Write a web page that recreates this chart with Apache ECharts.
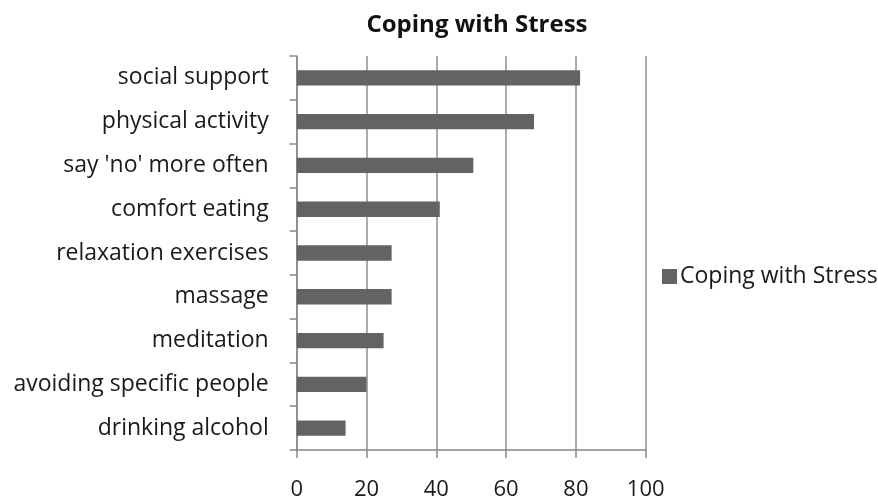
<!DOCTYPE html>
<html>
<head>
<meta charset="utf-8">
<script src="https://cdn.jsdelivr.net/npm/echarts@6/dist/echarts.min.js"></script>
<style>html,body{margin:0;padding:0;background:#fff}#c{width:878px;height:501px}</style>
</head>
<body>
<div id="c"></div>
<script>
const categories = ["social support","physical activity","say 'no' more often","comfort eating","relaxation exercises","massage","meditation","avoiding specific people","drinking alcohol"];
const values = [81.2, 68, 50.6, 41, 27.2, 27.2, 24.9, 20, 14];
const seriesName = "Coping with Stress";
const xTicks = [0, 20, 40, 60, 80, 100];

const chart = echarts.init(document.getElementById('c'), null, {renderer: 'canvas'});
const FONT = 'Open Sans';
chart.setOption({
  animation: false,
  backgroundColor: '#fff',
  title: {
    text: 'Coping with Stress',
    left: 472, top: 8, textAlign: 'center',
    textStyle: {fontFamily: FONT, fontWeight: 'bold', fontSize: 24, color: '#111'}
  },
  legend: {
    data: [seriesName],
    left: 657, top: 260,
    icon: 'rect', itemWidth: 15, itemHeight: 15, itemGap: 6,
    textStyle: {fontFamily: FONT, fontSize: 23, color: '#1a1a1a', padding: [0,0,0,-2]}
  },
  grid: {left: 296.7, right: 232.3, top: 56, bottom: 48, containLabel: false},
  xAxis: {
    type: 'value', min: xTicks[0], max: xTicks[xTicks.length-1], interval: 20,
    axisLine: {show: true, lineStyle: {color: '#888', width: 1.5}},
    axisTick: {show: true, length: 8, lineStyle: {color: '#888', width: 1.5}},
    splitLine: {show: true, lineStyle: {color: '#8f8f8f', width: 1.5}},
    axisLabel: {fontFamily: FONT, fontSize: 22, color: '#1a1a1a', margin: 29}
  },
  yAxis: {
    type: 'category', data: categories, inverse: true,
    axisLine: {show: true, lineStyle: {color: '#888', width: 1.5}},
    axisTick: {show: true, length: 7, lineStyle: {color: '#888', width: 1.5}},
    axisLabel: {fontFamily: FONT, fontSize: 23, color: '#1a1a1a', margin: 28, padding: [3, 0, 0, 0]}
  },
  series: [{
    name: seriesName, type: 'bar', data: values, barWidth: '35%',
    itemStyle: {color: '#636363'}
  }]
});
</script>
</body>
</html>
